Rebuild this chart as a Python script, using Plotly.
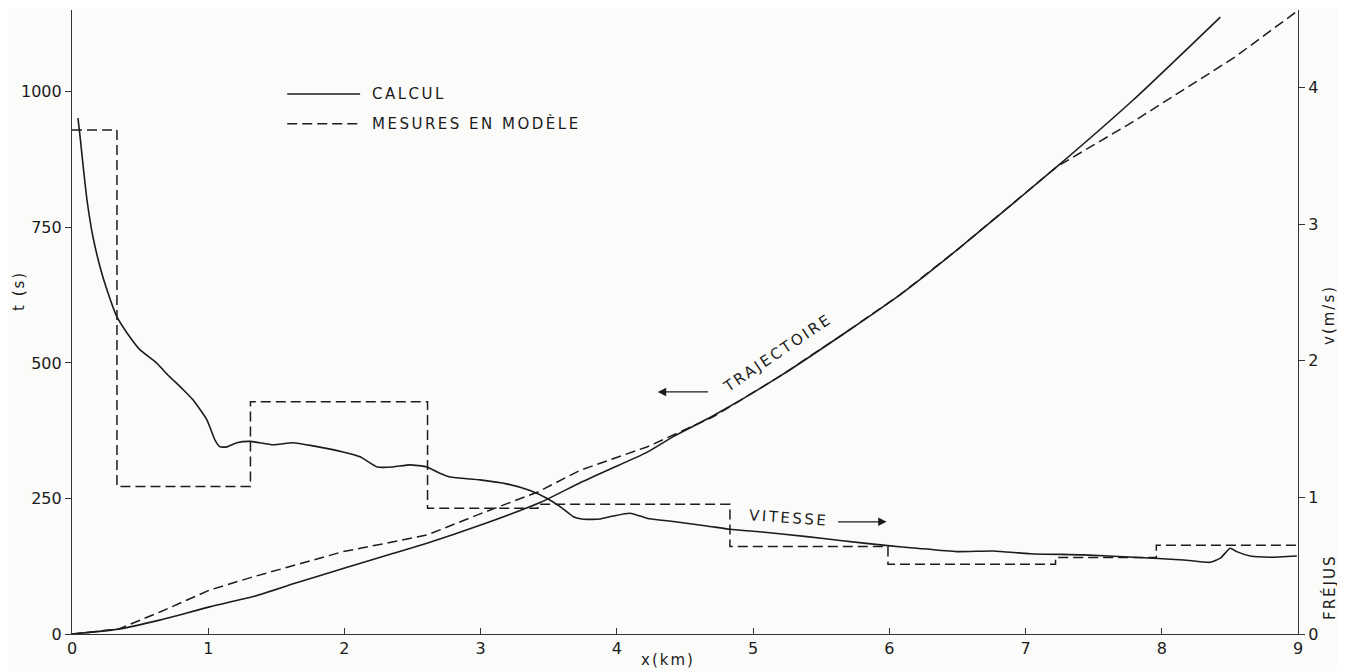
import plotly.graph_objects as go

# ---------------- data ----------------
# Trajectory (left axis, t in s) vs x (km)
traj_calc_x = [0, 0.34, 0.65, 1.01, 1.33, 1.63, 1.99, 2.36, 2.60, 3.00, 3.44, 3.73, 3.93, 4.22, 4.42, 4.71,
               5.20, 5.69, 6.08, 6.50, 7.23, 7.79, 8.43]
traj_calc_t = [0, 9, 26, 50, 69, 93, 121, 149, 167, 201, 243, 279, 302, 335, 365, 403,
               476, 558, 626, 709, 862, 985, 1138]

traj_meas_x = [0, 0.34, 0.65, 1.01, 1.31, 1.63, 1.99, 2.36, 2.61, 3.00, 3.42, 3.73, 4.22, 4.71,
               5.20, 5.69, 6.08, 6.50, 7.23, 7.79, 8.53, 9.00]
traj_meas_t = [0, 9, 41, 81, 104, 127, 152, 170, 183, 222, 262, 302, 345, 401,
               476, 558, 626, 709, 862, 945, 1063, 1150]

# Velocity (right axis, m/s) vs x (km)
vit_calc_x = [0.044, 0.062, 0.081, 0.110, 0.154, 0.206, 0.257, 0.330, 0.404, 0.50, 0.62, 0.70, 0.815,
              0.888, 0.99, 1.05, 1.087, 1.138, 1.21, 1.31, 1.476, 1.623, 1.77, 1.99, 2.115, 2.24, 2.357,
              2.48, 2.606, 2.70, 2.775, 2.996, 3.19, 3.363, 3.485, 3.583, 3.68, 3.754, 3.877, 3.974,
              4.097, 4.22, 4.415, 4.66, 4.831, 5.027, 5.394, 5.639, 5.989, 6.20, 6.495, 6.764, 7.034,
              7.425, 7.792, 8.159, 8.355, 8.43, 8.502, 8.55, 8.649, 8.796, 8.992]
vit_calc_v = [3.777, 3.616, 3.433, 3.177, 2.906, 2.687, 2.518, 2.321, 2.204, 2.08, 1.985, 1.90, 1.79,
              1.714, 1.568, 1.42, 1.37, 1.37, 1.40, 1.41, 1.385, 1.40, 1.377, 1.333, 1.297, 1.223, 1.223,
              1.238, 1.223, 1.177, 1.15, 1.128, 1.099, 1.05, 0.994, 0.933, 0.859, 0.84, 0.842, 0.864,
              0.884, 0.848, 0.823, 0.791, 0.767, 0.75, 0.713, 0.684, 0.647, 0.628, 0.603, 0.608, 0.588,
              0.579, 0.562, 0.542, 0.525, 0.555, 0.628, 0.603, 0.571, 0.562, 0.571]

vit_meas_x = [0, 0.33, 1.31, 2.61, 3.42, 4.83, 5.99, 7.22, 7.96, 9.0]
vit_meas_v = [3.69, 1.08, 1.70, 0.92, 0.95, 0.64, 0.51, 0.56, 0.65, 0.65]

x_ticks = [0, 1, 2, 3, 4, 5, 6, 7, 8, 9]
t_ticks = [0, 250, 500, 750, 1000]
v_ticks = [0, 1, 2, 3, 4]

legend_labels = ["CALCUL", "MESURES EN MODÈLE"]

# ---------------- style ----------------
INK = "#1c1c1c"
FONT = "DejaVu Sans"
BG = "#fbfbf9"
DASH = "10px,5px"
PAGE_OFFSET = 8  # default body margin of the html page

fig = go.Figure()

fig.add_trace(go.Scatter(x=traj_calc_x, y=traj_calc_t, mode="lines", yaxis="y",
                         line=dict(color=INK, width=1.6, shape="spline", smoothing=0.6),
                         name=legend_labels[0], showlegend=False))
fig.add_trace(go.Scatter(x=traj_meas_x, y=traj_meas_t, mode="lines", yaxis="y",
                         line=dict(color=INK, width=1.5, dash=DASH),
                         name=legend_labels[1], showlegend=False))
fig.add_trace(go.Scatter(x=vit_calc_x, y=vit_calc_v, mode="lines", yaxis="y2",
                         line=dict(color=INK, width=1.6, shape="spline", smoothing=0.5),
                         name=legend_labels[0], showlegend=False))
fig.add_trace(go.Scatter(x=vit_meas_x, y=vit_meas_v, mode="lines", yaxis="y2",
                         line=dict(color=INK, width=1.5, dash=DASH, shape="hv"),
                         name=legend_labels[1], showlegend=False))

axis_common = dict(showgrid=False, zeroline=False, showline=True, linecolor="#333",
                   linewidth=1.2, tickcolor="#333", tickwidth=1.2,
                   tickfont=dict(family=FONT, size=16, color=INK))

W, H = 1345 - PAGE_OFFSET, 671 - PAGE_OFFSET
fig.update_layout(
    width=W, height=H,
    margin=dict(l=72 - PAGE_OFFSET, r=47, t=10 - PAGE_OFFSET, b=37, autoexpand=False),
    paper_bgcolor=BG, plot_bgcolor=BG,
    showlegend=False,
    xaxis=dict(range=[0, 9], tickvals=x_ticks, ticks="inside", ticklen=6, **axis_common),
    yaxis=dict(range=[0, 1151], tickvals=t_ticks, ticks="outside", ticklen=6, **axis_common),
    yaxis2=dict(range=[0, 4.568], tickvals=v_ticks, ticks="outside", ticklen=6,
                overlaying="y", side="right", **axis_common),
)

# legend samples (drawn as shapes)
fig.add_shape(type="line", xref="x", yref="y", x0=1.58, x1=2.115, y0=996, y1=996,
              line=dict(color=INK, width=1.6))
fig.add_shape(type="line", xref="x", yref="y", x0=1.58, x1=2.115, y0=941, y1=941,
              line=dict(color=INK, width=1.5, dash=DASH))


def ann(text, x, y, xref="x", yref="y", angle=0, xanchor="center", size=15, spacing=0):
    if spacing:
        text = '<span style="letter-spacing:%spx">%s</span>' % (spacing, text)
    fig.add_annotation(text=text, x=x, y=y, xref=xref, yref=yref, showarrow=False,
                       textangle=angle, xanchor=xanchor, yanchor="middle",
                       font=dict(family=FONT, size=size, color=INK))


ann(legend_labels[0], 2.19, 996, xanchor="left", spacing=2.5)
ann(legend_labels[1], 2.19, 941, xanchor="left", spacing=2.5)
ann("TRAJECTOIRE", 5.18, 518, angle=-34, spacing=2.5)
ann("VITESSE", 5.26, 214, angle=4, spacing=2.5)


# page-pixel positions converted to paper fractions
def px(xp):
    return (xp - 72) / 1226.0


def py(yp):
    return (634 - yp) / 624.0


ann("t (s)", px(19), py(291), xref="paper", yref="paper", angle=-90, spacing=2)
ann("v(m/s)", px(1329), py(315), xref="paper", yref="paper", angle=-90, spacing=2)
ann("FRÉJUS", px(1329), py(588), xref="paper", yref="paper", angle=-90, spacing=2)
ann("x(km)", px(668), py(660), xref="paper", yref="paper", spacing=2)

# arrows
fig.add_annotation(x=4.30, y=446.5, ax=4.68, ay=446.5, xref="x", yref="y", axref="x", ayref="y",
                   text="", showarrow=True, arrowhead=2, arrowsize=1.3, arrowwidth=1.3,
                   arrowcolor=INK)
fig.add_annotation(x=5.98, y=207, ax=5.613, ay=207, xref="x", yref="y", axref="x", ayref="y",
                   text="", showarrow=True, arrowhead=2, arrowsize=1.3, arrowwidth=1.3,
                   arrowcolor=INK)

fig.write_html("out.html")
